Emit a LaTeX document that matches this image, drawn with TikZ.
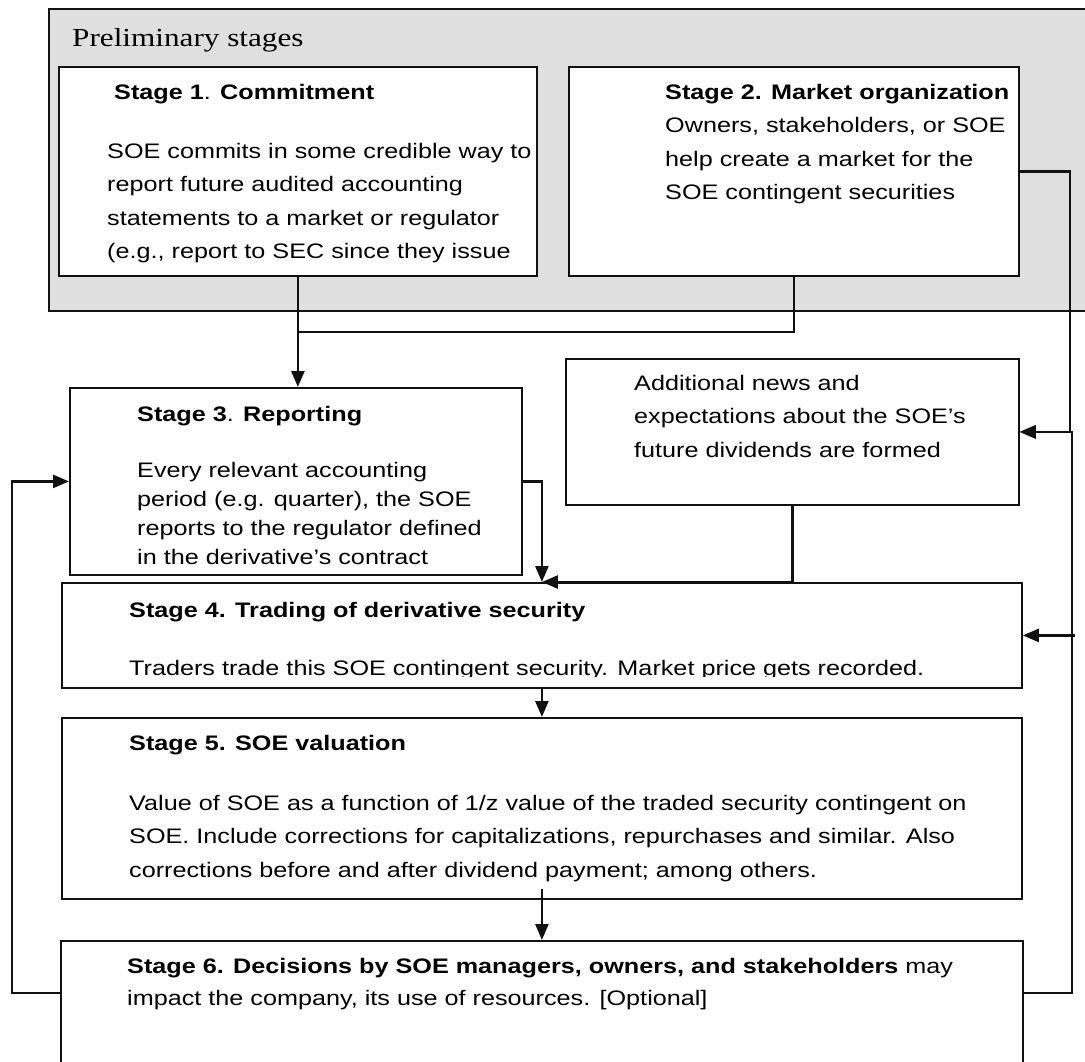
\documentclass[tikz,border=0pt]{standalone}
\usepackage{fontspec}
\usepackage{tikz}
\usetikzlibrary{arrows.meta, positioning, calc}
\newfontfamily\bodyfont[FakeStretch=1.2]{Liberation Sans}
\newfontfamily\headfont[FakeStretch=1.2]{Liberation Serif}
\definecolor{prelimFill}{HTML}{DFDFDF}
\definecolor{lineStroke}{HTML}{111111}
\tikzset{
  stagebox/.style={
    rectangle, anchor=north west,
    inner sep=0pt, fill=white,
    draw=lineStroke, line width=1.8pt
  },
  prelim/.style={stagebox, fill=prelimFill},
  stagetxt/.style={
    anchor=north west, inner sep=0pt, align=left,
    font=\bodyfont\fontsize{21}{33.5}\selectfont
  },
  flow/.style={-{Triangle[length=16pt,width=13pt]}, draw=lineStroke, line width=2.5pt},
  link/.style={draw=lineStroke, line width=2.5pt},
}

\begin{document}
\begin{tikzpicture}[x=1pt,y=-1pt]
    \useasboundingbox (0,0) rectangle (1085,1061);

    % preliminary stages
    \node[prelim, minimum width=1060pt, minimum height=302pt] (pre) at (48,8) {};
    \node[anchor=north west, inner sep=0pt, font=\headfont\fontsize{26}{30}\selectfont] (pret) at (72,28) {Preliminary stages};
    \node[stagebox, minimum width=478pt, minimum height=209pt] (s1) at (58,66) {};
    \node[stagebox, minimum width=450pt, minimum height=209pt] (s2) at (568,66) {};

    % stages
    \node[stagebox, minimum width=452pt, minimum height=187pt] (s3) at (69,387) {};
    \node[stagebox, minimum width=453pt, minimum height=146pt] (ad) at (565,358) {};
    \node[stagebox, minimum width=960pt, minimum height=105pt] (s4) at (61,582) {};
    \node[stagebox, minimum width=960pt, minimum height=181pt] (s5) at (61,717) {};
    \node[stagebox, minimum width=962pt, minimum height=150pt] (s6) at (60,940) {};

    \node[stagetxt] (t1) at (107,84) {\hspace*{7pt}\textbf{Stage 1}.\textbf{ Commitment}\\[25.5pt]
      SOE commits in some credible way to\\report future audited accounting\\
      statements to a market or regulator\\(e.g., report to SEC since they issue};
    \node[stagetxt] (t2) at (665,84) {\textbf{Stage 2. Market organization}\\Owners, stakeholders, or SOE\\
      help create a market for the\\SOE contingent securities};
    \begin{scope}
      \clip (69,387) rectangle (521,565);
      \node[stagetxt, font=\bodyfont\fontsize{21}{29}\selectfont] (t3) at (137,406) {\textbf{Stage 3}.\textbf{ Reporting}\\[27pt]
        Every relevant accounting\\period (e.g. quarter), the SOE\\
        reports to the regulator defined\\in the derivative’s contract};
    \end{scope}
    \node[stagetxt] (tad) at (634,375) {Additional news and\\expectations about the SOE’s\\future dividends are formed};
    \begin{scope}
      \clip (61,582) rectangle (1021,676);
      \node[stagetxt] (t4) at (129,602) {\textbf{Stage 4. Trading of derivative security}\\[24.5pt]
        Traders trade this SOE contingent security. Market price gets recorded.};
    \end{scope}
    \node[stagetxt] (t5) at (129,735) {\textbf{Stage 5. SOE valuation}\\[26.5pt]
      Value of SOE as a function of 1/z value of the traded security contingent on\\
      SOE. Include corrections for capitalizations, repurchases and similar. Also\\
      corrections before and after dividend payment; among others.};
    \node[stagetxt, font=\bodyfont\fontsize{21}{32}\selectfont] (t6) at (127,958) {\textbf{Stage 6. Decisions by SOE managers, owners, and stakeholders} may\\
      impact the company, its use of resources. [Optional]};

    % connectors
    \coordinate (j13) at ($(s1.south)!.5!(s3.north -| s1.south)$);
    \draw[flow] (s1.south) -- (s3.north -| s1.south);
    \draw[link] (s2.south) |- (j13);
    \draw[flow] (s2.east) -| ($(ad.east)+(50,0)$) -- (ad.east);
    \draw[flow] (s3.east) -| (s4.north);
    \draw[flow] (ad.south) |- (s4.north);
    \draw[flow] (s4.south) -- (s5.north);
    \draw[flow] ($(s5.south)+(0,-11)$) -- (s6.north);
    \draw[flow] ($(s6.north east)+(0,53)$) -| ($(ad.east)+(52,0)$) -- (ad.east);
    \draw[flow] ($(s4.east)+(52,0)$) -- (s4.east);
    \draw[flow] ($(s6.north west)+(0,53)$) -| ($(s3.west)+(-57,0)$) -- (s3.west);
\end{tikzpicture}
\end{document}
